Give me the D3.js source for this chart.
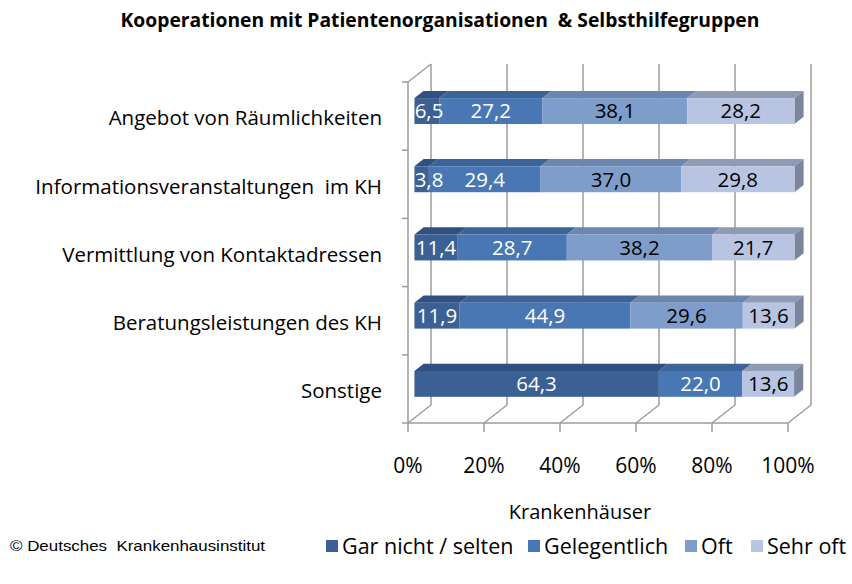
<!DOCTYPE html>
<html>
<head>
<meta charset="utf-8">
<script src="https://cdn.jsdelivr.net/npm/d3@7"></script>
<style>
  body { margin: 0; background: #fff; }
  svg { font-family: "Open Sans", Lato, sans-serif; }
</style>
</head>
<body>
<div id="chart"></div>
<script>
const categories = ["Angebot von Räumlichkeiten", "Informationsveranstaltungen  im KH",
  "Vermittlung von Kontaktadressen", "Beratungsleistungen des KH", "Sonstige"];
const seriesNames = ["Gar nicht / selten", "Gelegentlich", "Oft", "Sehr oft"];
const garNicht = [6.5, 3.8, 11.4, 11.9, 64.3];
const gelegentlich = [27.2, 29.4, 28.7, 44.9, 22.0];
const oft = [38.1, 37.0, 38.2, 29.6, 0];
const sehrOft = [28.2, 29.8, 21.7, 13.6, 13.6];
const xTicks = [0, 20, 40, 60, 80, 100];

const width = 852, height = 584;
const svg = d3.select("#chart").append("svg")
    .attr("width", width).attr("height", height);

// front plane + depth offset
const x = d3.scaleLinear().domain([0, 100]).range([408, 788]);
const y = d3.scaleBand().domain(categories).range([82, 423])
    .paddingInner(0.62).paddingOuter(0.31);
const DX = 23, DY = -18;
const P = (xv, yv, z) => [x(xv) + z * DX, yv + z * DY];

const frontCol = ["#3b6094", "#4877b4", "#7e9dca", "#b8c5e2"];
const topCol = ["#2f5080", "#3c6499", "#6c86b0", "#8f9bb5"];
const sideCol = "#7b869e";
const labelCol = ["#fff", "#fff", "#000", "#000"];
const grid = "#9c9c9c";

// back wall gridlines
svg.append("g").selectAll("line").data(xTicks).join("line")
    .attr("x1", d => x(d) + DX).attr("x2", d => x(d) + DX)
    .attr("y1", 82 + DY).attr("y2", 423 + DY)
    .attr("stroke", grid).attr("stroke-width", 1.5);
// floor
svg.append("g").selectAll("line").data(xTicks).join("line")
    .attr("x1", d => x(d)).attr("x2", d => x(d) + DX)
    .attr("y1", 423).attr("y2", 423 + DY)
    .attr("stroke", grid).attr("stroke-width", 1.5);
svg.append("line").attr("x1", x(0)).attr("x2", x(100)).attr("y1", 423).attr("y2", 423)
    .attr("stroke", grid).attr("stroke-width", 1.5);
// left wall
svg.append("path")
    .attr("d", `M${x(0)},423 L${x(0)},82 L${x(0) + DX},${82 + DY}`)
    .attr("fill", "none").attr("stroke", grid).attr("stroke-width", 1.5);
// ticks
svg.append("g").selectAll("line").data(xTicks).join("line")
    .attr("x1", d => x(d)).attr("x2", d => x(d))
    .attr("y1", 423).attr("y2", 432)
    .attr("stroke", grid).attr("stroke-width", 1.5);
const yBounds = categories.map((c, i) => 82 + i * 341 / categories.length);
yBounds.push(423);
svg.append("g").selectAll("line").data(yBounds).join("line")
    .attr("x1", x(0) - 6).attr("x2", x(0))
    .attr("y1", d => d).attr("y2", d => d)
    .attr("stroke", grid).attr("stroke-width", 1.5);

// bars
const zf = 0.28, zb = 0.68;
const series = [garNicht, gelegentlich, oft, sehrOft];
const rows = categories.map((c, i) => {
  let acc = 0;
  return series.map((s, k) => {
    const seg = { cat: c, k, v: s[i], x0: acc, x1: acc + s[i] };
    acc += s[i];
    return seg;
  }).filter(d => d.v > 0);
});
const segs = rows.flat();
const poly = pts => "M" + pts.map(p => p.join(",")).join("L") + "Z";

const gBars = svg.append("g");
gBars.selectAll(".top").data(segs).join("path")
    .attr("d", d => {
      const yt = y(d.cat);
      return poly([P(d.x0, yt, zf), P(d.x1, yt, zf), P(d.x1, yt, zb), P(d.x0, yt, zb)]);
    })
    .attr("fill", d => topCol[d.k]);
gBars.selectAll(".side").data(rows.map(r => r[r.length - 1])).join("path")
    .attr("d", d => {
      const yt = y(d.cat), yb = yt + y.bandwidth();
      return poly([P(d.x1, yt, zf), P(d.x1, yt, zb), P(d.x1, yb, zb), P(d.x1, yb, zf)]);
    })
    .attr("fill", sideCol);
gBars.selectAll(".front").data(segs).join("rect")
    .attr("x", d => P(d.x0, 0, zf)[0])
    .attr("y", d => y(d.cat) + zf * DY)
    .attr("width", d => x(d.x1) - x(d.x0))
    .attr("height", y.bandwidth())
    .attr("fill", d => frontCol[d.k]);
gBars.selectAll("text").data(segs).join("text")
    .attr("x", d => Math.max(P((d.x0 + d.x1) / 2, 0, zf)[0], d.x0 === 0 ? 429 : 0))
    .attr("y", d => y(d.cat) + zf * DY + y.bandwidth() / 2)
    .attr("dy", "0.36em")
    .attr("text-anchor", "middle")
    .attr("font-size", 20.5)
    .attr("fill", d => labelCol[d.k])
    .text(d => d.v.toFixed(1).replace(".", ","));

// category labels
svg.append("g").selectAll("text").data(categories).join("text")
    .attr("x", 382)
    .attr("y", d => y(d) + y.bandwidth() / 2 + 2)
    .attr("dy", "0.36em")
    .attr("text-anchor", "end")
    .attr("font-size", 20.5)
    .attr("fill", "#000")
    .style("white-space", "pre")
    .text(d => d);

// x tick labels
svg.append("g").selectAll("text").data(xTicks).join("text")
    .attr("x", d => x(d))
    .attr("y", 465)
    .attr("dy", "0.36em")
    .attr("text-anchor", "middle")
    .attr("font-size", 21)
    .text(d => d + "%");

svg.append("text").attr("x", 580).attr("y", 512).attr("dy", "0.36em")
    .attr("text-anchor", "middle").attr("font-size", 20).text("Krankenhäuser");

svg.append("text").attr("x", 440).attr("y", 20).attr("dy", "0.36em")
    .attr("text-anchor", "middle").attr("font-size", 19.3).attr("font-weight", "bold")
    .style("white-space", "pre")
    .text("Kooperationen mit Patientenorganisationen  & Selbsthilfegruppen");

svg.append("text").attr("x", 10).attr("y", 546).attr("dy", "0.36em")
    .attr("font-size", 15)
    .attr("font-family", "'Liberation Sans', Arial, sans-serif")
    .attr("textLength", 255).attr("lengthAdjust", "spacingAndGlyphs")
    .style("white-space", "pre")
    .text("© Deutsches  Krankenhausinstitut");

// legend
const legX = [326, 528, 685, 751];
const leg = svg.append("g").selectAll("g").data(seriesNames).join("g")
    .attr("transform", (d, i) => `translate(${legX[i]},546)`);
leg.append("rect").attr("x", 0).attr("y", -6).attr("width", 12).attr("height", 12)
    .attr("fill", (d, i) => frontCol[i]);
leg.append("text").attr("x", 16).attr("dy", "0.36em").attr("font-size", 21.5).text(d => d);
</script>
</body>
</html>
